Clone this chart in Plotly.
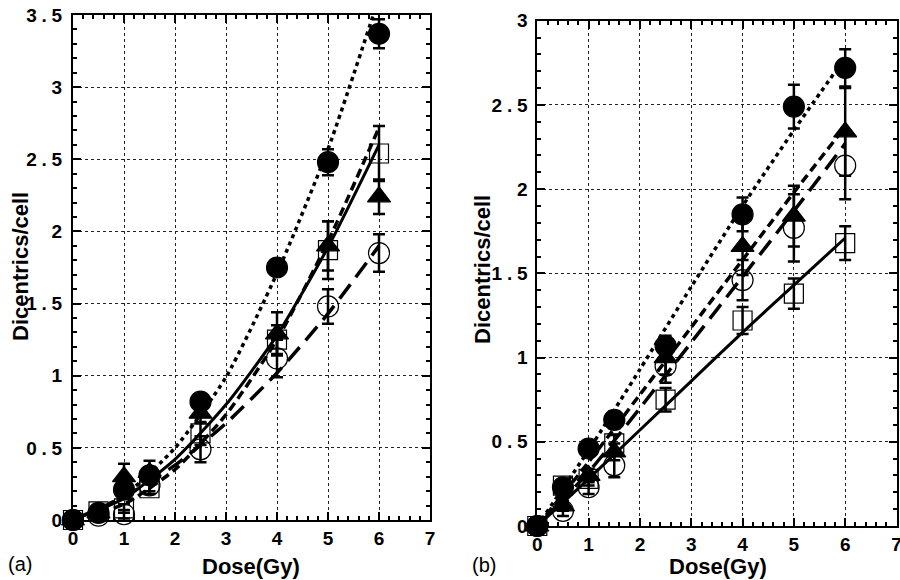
import plotly.graph_objects as go

# ---------------- data ----------------
doses = [0, 0.5, 1, 1.5, 2.5, 4, 5, 6]
fit_doses = [0, 1, 2, 3, 4, 5, 6]

# panel (a)
a_fcirc = [0, 0.05, 0.21, 0.31, 0.82, 1.75, 2.48, 3.37]
a_fcirc_err = [0, 0.01, 0.03, 0.04, 0.05, 0.05, 0.09, 0.10]
a_tri = [0, 0.05, 0.30, 0.33, 0.74, 1.29, 1.90, 2.24]
a_tri_err = [0, 0.01, 0.09, 0.08, 0.07, 0.15, 0.17, 0.12]
a_sq = [0, 0.06, 0.08, 0.22, 0.60, 1.25, 1.87, 2.54]
a_sq_err = [0, 0.01, 0.03, 0.04, 0.08, 0.10, 0.20, 0.19]
a_ocirc = [0, 0.03, 0.04, 0.24, 0.49, 1.12, 1.48, 1.85]
a_ocirc_err = [0, 0.01, 0.03, 0.04, 0.09, 0.13, 0.12, 0.13]

a_fit_fcirc = [0, 0.17, 0.50, 0.99, 1.71, 2.57, 3.62]
a_fit_tri = [0, 0.11, 0.35, 0.73, 1.25, 1.93, 2.72]
a_fit_sq = [0, 0.15, 0.42, 0.80, 1.28, 1.89, 2.60]
a_fit_ocirc = [0, 0.16, 0.38, 0.67, 1.02, 1.43, 1.90]

# panel (b)
b_fcirc = [0, 0.23, 0.46, 0.63, 1.07, 1.85, 2.49, 2.72]
b_fcirc_err = [0, 0.03, 0.04, 0.05, 0.06, 0.10, 0.13, 0.11]
b_tri = [0, 0.12, 0.30, 0.44, 1.00, 1.66, 1.84, 2.34]
b_tri_err = [0, 0.03, 0.04, 0.05, 0.10, 0.17, 0.18, 0.26]
b_sq = [0, 0.24, 0.28, 0.49, 0.75, 1.22, 1.38, 1.68]
b_sq_err = [0, 0.03, 0.04, 0.05, 0.07, 0.08, 0.09, 0.10]
b_ocirc = [0, 0.09, 0.23, 0.36, 0.95, 1.46, 1.77, 2.14]
b_ocirc_err = [0, 0.03, 0.04, 0.07, 0.10, 0.12, 0.20, 0.20]

b_fit_fcirc = [0, 0.45, 0.93, 1.42, 1.90, 2.35, 2.78]
b_fit_tri = [0, 0.38, 0.78, 1.18, 1.58, 1.98, 2.37]
b_fit_sq = [0, 0.28, 0.57, 0.86, 1.15, 1.43, 1.71]
b_fit_ocirc = [0, 0.32, 0.70, 1.09, 1.48, 1.87, 2.27]

x_ticks = [0, 1, 2, 3, 4, 5, 6, 7]
a_y_ticks = [0, 0.5, 1, 1.5, 2, 2.5, 3, 3.5]
a_y_labels = ["0", "0\u2005.\u20055", "1", "1\u2005.\u20055", "2", "2\u2005.\u20055", "3", "3\u2005.\u20055"]
b_y_ticks = [0, 0.5, 1, 1.5, 2, 2.5, 3]
b_y_labels = ["0", "0\u2005.\u20055", "1", "1\u2005.\u20055", "2", "2\u2005.\u20055", "3"]

# ---------------- figure ----------------
fig = go.Figure()

DASH = {"dot": "4px,4px", "short": "9px,5px", "solid": "solid", "long": "18px,9px"}


def add_fit(x, y, dash, xa, ya, width=3.5):
    fig.add_trace(go.Scatter(x=x, y=y, mode="lines", xaxis=xa, yaxis=ya,
                             line=dict(color="black", width=width, dash=dash, shape="spline", smoothing=0.6),
                             showlegend=False, hoverinfo="skip"))


def add_pts(y, err, symbol, size, xa, ya):
    fig.add_trace(go.Scatter(x=doses, y=y, mode="markers", xaxis=xa, yaxis=ya,
                             marker=dict(symbol=symbol, size=size, color="black",
                                         line=dict(color="black", width=1.2)),
                             error_y=dict(type="data", array=err, visible=True, color="black",
                                          thickness=2.5, width=6),
                             cliponaxis=False, showlegend=False))


# panel (a)
add_fit(fit_doses, a_fit_fcirc, DASH["dot"], "x", "y")
add_fit(fit_doses, a_fit_tri, DASH["short"], "x", "y")
add_fit(fit_doses, a_fit_sq, DASH["solid"], "x", "y", 3)
add_fit(fit_doses, a_fit_ocirc, DASH["long"], "x", "y")
add_pts(a_ocirc, a_ocirc_err, "circle-open", 21, "x", "y")
add_pts(a_sq, a_sq_err, "square-open", 19, "x", "y")
add_pts(a_tri, a_tri_err, "triangle-up", 20, "x", "y")
add_pts(a_fcirc, a_fcirc_err, "circle", 21, "x", "y")

# panel (b)
add_fit(fit_doses, b_fit_fcirc, DASH["dot"], "x2", "y2")
add_fit(fit_doses, b_fit_tri, DASH["short"], "x2", "y2")
add_fit(fit_doses, b_fit_sq, DASH["solid"], "x2", "y2", 3)
add_fit(fit_doses, b_fit_ocirc, DASH["long"], "x2", "y2")
add_pts(b_ocirc, b_ocirc_err, "circle-open", 21, "x2", "y2")
add_pts(b_sq, b_sq_err, "square-open", 19, "x2", "y2")
add_pts(b_tri, b_tri_err, "triangle-up", 20, "x2", "y2")
add_pts(b_fcirc, b_fcirc_err, "circle", 21, "x2", "y2")

FONT = "Liberation Sans, Arial, sans-serif"
tickfont = dict(family=FONT, size=19, color="black", weight="bold")

common = dict(showline=True, linecolor="black", linewidth=2, mirror="ticks",
              ticks="inside", ticklen=8, tickwidth=1.5, tickcolor="black",
              showgrid=True, gridcolor="#222", gridwidth=1, griddash="dot",
              zeroline=False, tickfont=tickfont, automargin=False,
              ticklabeloverflow="allow")

yminor = dict(dtick=0.1, ticks="inside", ticklen=4, tickcolor="black", showgrid=False)
xcommon = dict(common, range=[0, 7], tickvals=x_ticks, ticklabelstandoff=0,
               minor=dict(dtick=0.2, ticks="inside", ticklen=4, tickcolor="black", showgrid=False))

fig.update_layout(
    width=900, height=580,
    margin=dict(l=0, r=0, t=0, b=0),
    paper_bgcolor="white", plot_bgcolor="white",
    xaxis=dict(xcommon, domain=[73 / 900, 430 / 900], anchor="y"),
    yaxis=dict(common, range=[0, 3.5], tickvals=a_y_ticks, ticktext=a_y_labels,
               ticklabelstandoff=5, domain=[60 / 580, 565 / 580], anchor="x", minor=yminor),
    xaxis2=dict(xcommon, domain=[537.3 / 900, 896.5 / 900], anchor="y2"),
    yaxis2=dict(common, range=[0, 3], tickvals=b_y_ticks, ticktext=b_y_labels,
                ticklabelstandoff=4, domain=[54 / 580, 559.3 / 580], anchor="x2", minor=yminor),
)

titlefont = dict(family=FONT, size=22, color="black", weight="bold")
labelfont = dict(family=FONT, size=20, color="black")

annotations = [
    dict(text="Dose(Gy)", x=251 / 900, y=(580 - 566) / 580, font=titlefont),
    dict(text="Dose(Gy)", x=718 / 900, y=(580 - 566) / 580, font=titlefont),
    dict(text="Dicentrics/cell", x=20 / 900, y=(580 - 267) / 580, font=titlefont, textangle=-90),
    dict(text="Dicentrics/cell", x=482 / 900, y=(580 - 270) / 580, font=titlefont, textangle=-90),
    dict(text="(a)", x=20 / 900, y=(580 - 564) / 580, font=labelfont),
    dict(text="(b)", x=484 / 900, y=(580 - 565) / 580, font=labelfont),
]
for a in annotations:
    fig.add_annotation(xref="paper", yref="paper", showarrow=False,
                       xanchor="center", yanchor="middle", **a)

fig.write_html("out.html")
